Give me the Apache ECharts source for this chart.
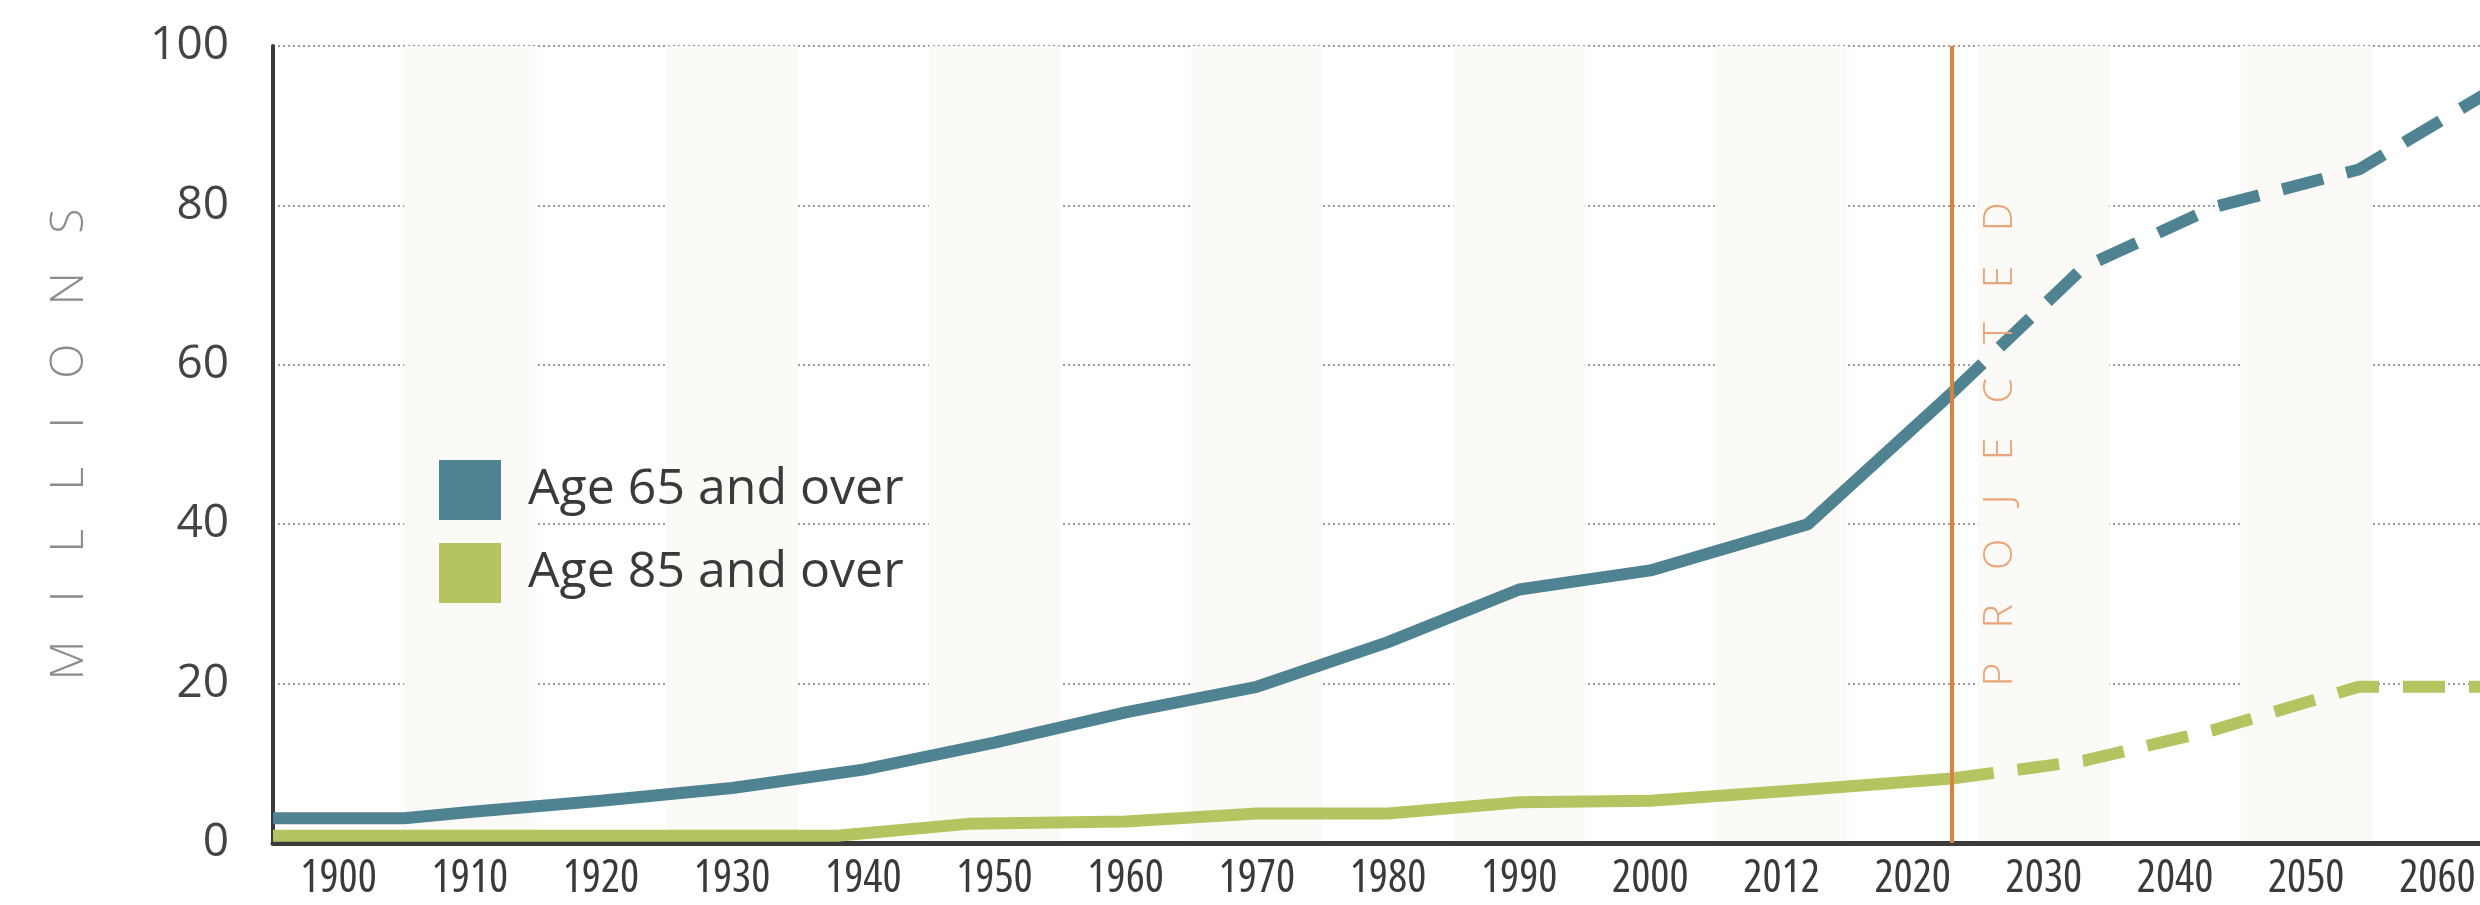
<!DOCTYPE html>
<html>
<head>
<meta charset="utf-8">
<style>
  html, body { margin: 0; padding: 0; background: #ffffff; }
  #chart { width: 2480px; height: 905px; }
</style>
<script src="https://cdn.jsdelivr.net/npm/echarts/dist/echarts.min.js"></script>
</head>
<body>
<div id="chart"></div>
<script>
// ---- data ----
const xLabels = ['1900','1910','1920','1930','1940','1950','1960','1970','1980','1990','2000','2012','2020','2030','2040','2050','2060'];
const yTicks = [0, 20, 40, 60, 80, 100];
const projectionYear = 2023;

const years65Hist = [1895, 1905, 1910, 1920, 1930, 1940, 1950, 1960, 1970, 1980, 1990, 2000, 2012, 2023];
const age65Hist   = [3.1, 3.1, 3.9, 5.3, 6.9, 9.2, 12.6, 16.4, 19.6, 25.2, 31.8, 34.2, 40.0, 56.5];
const years85Hist = [1895, 1938, 1948, 1960, 1970, 1980, 1990, 2000, 2012, 2023];
const age85Hist   = [0.9, 0.9, 2.4, 2.7, 3.7, 3.7, 5.1, 5.3, 6.7, 8.1];
const yearsProj   = [2023, 2033, 2043, 2054, 2065];
const age65Proj   = [56.5, 72.2, 79.8, 84.5, 95.3];
const age85Proj   = [8.1, 10.3, 14.2, 19.6, 19.6];

const seriesNames = ['Age 65 and over', 'Age 85 and over'];

// ---- helpers ----
const pairs = (xs, ys) => xs.map((x, i) => [x, ys[i]]);
const spaced = s => s.split('').join('\u2002\u2004');

const BLUE = '#4f8392';
const GREEN = '#b4c460';
const LW = 12;

const chart = echarts.init(document.getElementById('chart'), null, { renderer: 'canvas' });

chart.setOption({
  animation: false,
  backgroundColor: '#ffffff',
  grid: { left: 273, width: 2230, top: 46, bottom: 62, containLabel: false, outerBoundsMode: 'none' },
  legend: {
    data: seriesNames,
    orient: 'vertical',
    left: 434,
    top: 455,
    icon: 'rect',
    itemWidth: 62,
    itemHeight: 60,
    itemGap: 23,
    selectedMode: false,
    textStyle: { fontSize: 50, color: '#3a3a3a', fontFamily: 'Open Sans', padding: [0, 0, 0, 22] }
  },
  xAxis: [
    {
      type: 'category',
      data: xLabels,
      boundaryGap: true,
      position: 'bottom',
      axisLine: { show: true, onZero: false, lineStyle: { color: '#3b3b3b', width: 5 } },
      axisTick: { show: false },
      axisLabel: { interval: 0, margin: 14, fontSize: 45, fontStyle: 'condensed', color: '#3a3a3a', fontFamily: 'Open Sans' },
      splitLine: { show: false },
      splitArea: { show: true, interval: 0, areaStyle: { color: ['rgba(255,255,255,0)', '#fcfaf7'] } },
      z: 0
    },
    {
      type: 'value',
      min: 1895,
      max: 2065,
      show: false,
      splitLine: { show: false }
    }
  ],
  yAxis: {
    type: 'value',
    min: yTicks[0],
    max: yTicks[yTicks.length - 1],
    interval: 20,
    name: spaced('MILLIONS'),
    nameLocation: 'middle',
    nameRotate: 90,
    nameGap: 180,
    nameTextStyle: { fontSize: 46, color: '#8c8c8c', fontFamily: 'Open Sans', fontWeight: 300 },
    axisLine: { show: true, lineStyle: { color: '#3b3b3b', width: 4 } },
    axisTick: { show: false },
    axisLabel: { margin: 44, fontSize: 46, color: '#444444', fontFamily: 'Open Sans' },
    splitLine: { show: true, lineStyle: { color: '#9c9c9c', width: 2, type: [2, 3] } }
  },
  series: [
    {
      name: seriesNames[0],
      type: 'line',
      xAxisIndex: 1,
      data: pairs(years65Hist, age65Hist),
      symbol: 'none',
      color: BLUE,
      itemStyle: { color: BLUE },
      lineStyle: { color: BLUE, width: LW },
      z: 3,
      markLine: {
        silent: true,
        symbol: 'none',
        animation: false,
        data: [{ xAxis: projectionYear }],
        lineStyle: { color: '#d8823c', width: 4, type: 'solid' },
        label: {
          show: true,
          formatter: spaced('PROJECTED'),
          position: 'insideMiddleBottom',
          distance: 28,
          color: '#e9a67a',
          fontSize: 41,
          fontFamily: 'Open Sans',
          fontWeight: 300
        }
      }
    },
    {
      name: seriesNames[0],
      type: 'line',
      xAxisIndex: 1,
      data: pairs(yearsProj, age65Proj),
      symbol: 'none',
      color: BLUE,
      itemStyle: { color: BLUE },
      lineStyle: { color: BLUE, width: LW, type: [42, 24] },
      z: 3
    },
    {
      name: seriesNames[1],
      type: 'line',
      xAxisIndex: 1,
      data: pairs(years85Hist, age85Hist),
      symbol: 'none',
      color: GREEN,
      itemStyle: { color: GREEN },
      lineStyle: { color: GREEN, width: LW },
      z: 3
    },
    {
      name: seriesNames[1],
      type: 'line',
      xAxisIndex: 1,
      data: pairs(yearsProj, age85Proj),
      symbol: 'none',
      color: GREEN,
      itemStyle: { color: GREEN },
      lineStyle: { color: GREEN, width: LW, type: [42, 24] },
      z: 3
    }
  ]
});
</script>
</body>
</html>
